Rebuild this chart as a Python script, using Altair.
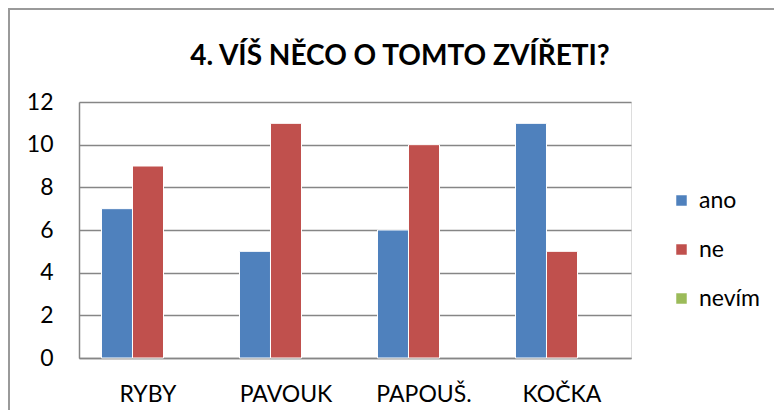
import altair as alt
import pandas as pd

categories = ["RYBY", "PAVOUK", "PAPOUŠ.", "KOČKA"]
series_names = ["ano", "ne", "nevím"]
ano = [7, 5, 6, 11]
ne = [9, 11, 10, 5]
nevim = [0, 0, 0, 0]
colors = ["#4F81BD", "#C0504D", "#9BBB59"]
y_ticks = [0, 2, 4, 6, 8, 10, 12]
title_text = "4. VÍŠ NĚCO O TOMTO ZVÍŘETI?"

rows = []
for s, vals in zip(series_names, [ano, ne, nevim]):
    for c, v in zip(categories, vals):
        rows.append({"cat": c, "series": s, "value": v})
df = pd.DataFrame(rows)

FONT = "Lato"
GRID = "#868686"

bars = alt.Chart(df).transform_filter(
    alt.datum.value > 0
).mark_bar(stroke="white", strokeWidth=1).encode(
    x=alt.X(
        "cat:N",
        sort=categories,
        scale=alt.Scale(domain=categories, paddingInner=0.326, paddingOuter=0.163),
        axis=alt.Axis(
            title=None, labelAngle=0, labelFontSize=23, labelFont=FONT,
            labelColor="black", domain=True, domainColor=GRID, domainWidth=1.5,
            ticks=False, labelPadding=25,
        ),
    ),
    xOffset=alt.XOffset("series:N", sort=series_names,
                        scale=alt.Scale(domain=series_names)),
    y=alt.Y(
        "value:Q",
        scale=alt.Scale(domain=[0, 12]),
        axis=alt.Axis(
            title=None, values=y_ticks, labelFontSize=23, labelFont=FONT,
            labelColor="black", domain=True, domainColor=GRID, domainWidth=1.5,
            ticks=False, labelPadding=26, grid=True, gridColor=GRID,
            gridWidth=1.5, gridOpacity=1,
        ),
    ),
    color=alt.Color(
        "series:N",
        scale=alt.Scale(domain=series_names, range=colors),
        legend=alt.Legend(
            title=None, orient="none", legendX=591, legendY=87,
            symbolType="square", symbolSize=110, symbolStrokeWidth=0,
            labelFontSize=23, labelFont=FONT, labelColor="black",
            rowPadding=25, labelOffset=6,
        ),
    ),
)

frame = alt.Chart(df).mark_rect(filled=False, stroke="#9a9a9a", strokeWidth=1.5).encode(
    x=alt.value(-70), x2=alt.value(720), y=alt.value(-93), y2=alt.value(420)
)

title = alt.Chart(pd.DataFrame({"t": [title_text]})).mark_text(
    font=FONT, fontSize=28, fontWeight="bold", color="black",
    align="center", baseline="alphabetic",
).encode(text="t:N", x=alt.value(321), y=alt.value(-37))

chart = alt.layer(frame, bars, title).properties(
    width=552,
    height=256,
    autosize=alt.AutoSizeParams(type="none"),
    padding={"left": 71, "top": 94, "right": 143, "bottom": 52},
).configure_view(stroke=None).configure(background="white")

chart.save("out.html", embed_options={"renderer": "svg", "actions": False})
